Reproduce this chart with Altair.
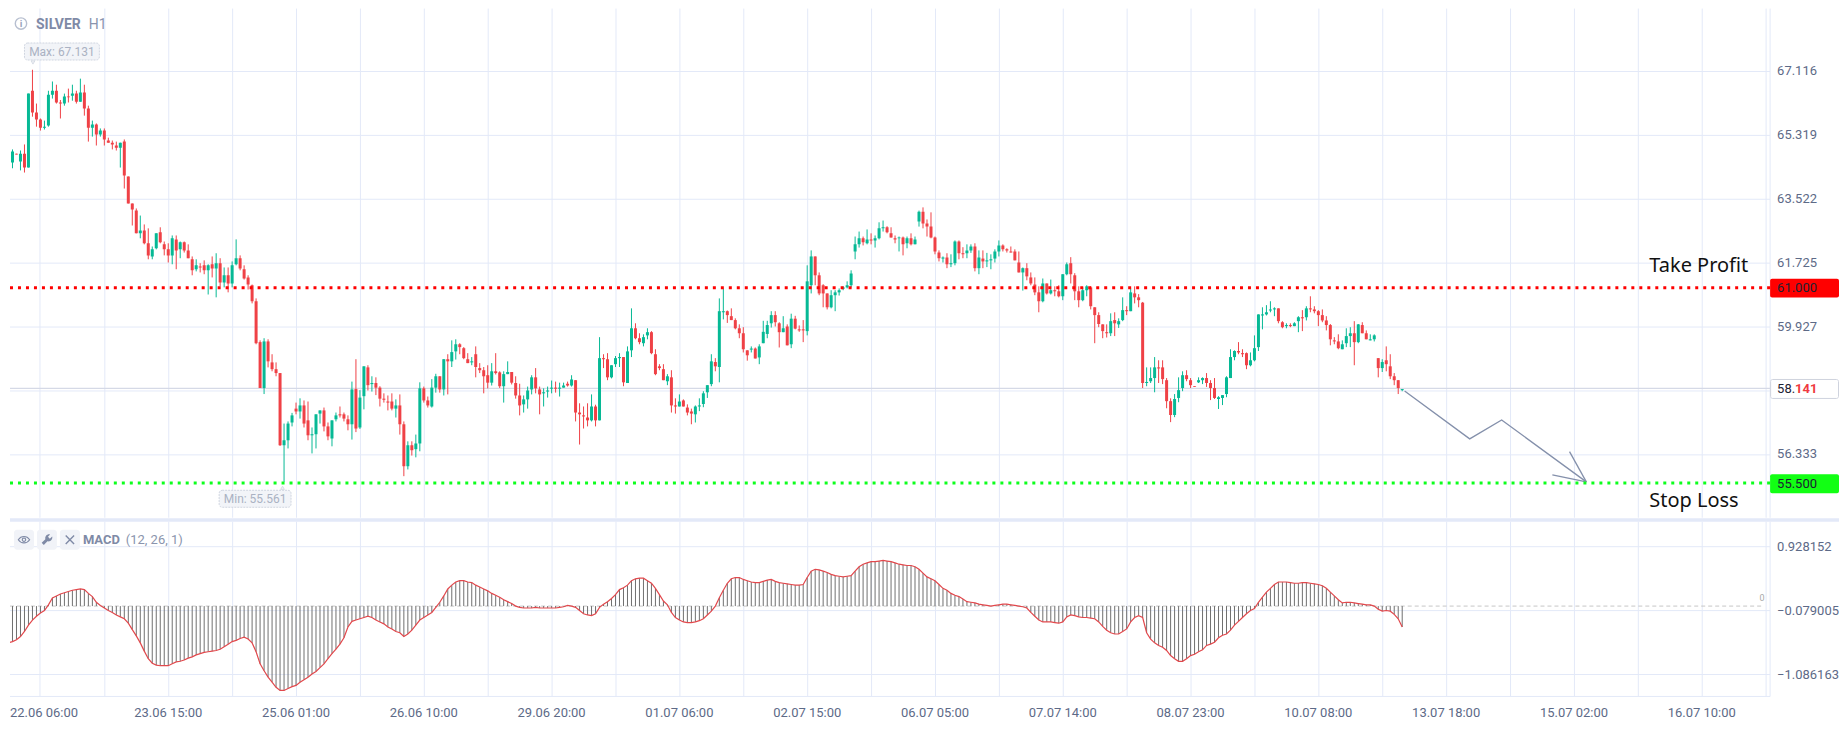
import altair as alt
import pandas as pd

OPEN = [64.57,64.54,64.79,64.57,64.79,64.40,66.56,65.95,65.75,65.52,
65.58,66.45,66.56,66.23,66.20,66.40,66.42,66.48,66.25,66.51,
66.06,65.52,65.61,65.33,65.44,65.16,65.10,65.02,64.96,65.13,
64.15,63.39,63.19,62.55,62.63,62.27,61.90,62.13,62.58,62.24,
62.10,61.93,62.38,62.10,62.30,62.07,61.82,61.54,61.62,61.65,
61.51,61.68,61.56,61.71,61.17,61.37,61.14,61.68,61.85,61.54,
61.31,61.09,60.64,59.49,58.20,59.51,58.92,58.73,58.62,56.59,
56.73,57.23,57.62,57.54,57.71,57.29,56.87,56.90,57.48,57.57,
57.12,56.78,57.32,57.46,57.46,57.32,57.18,58.17,57.09,57.97,
58.78,58.31,58.34,58.21,57.90,57.82,57.82,57.62,57.71,57.18,
56.00,56.59,56.48,56.64,58.19,57.85,57.68,58.21,58.53,58.16,
59.01,58.95,59.23,59.43,59.32,59.01,58.92,59.15,58.76,58.70,
58.56,58.35,58.67,58.64,58.25,58.59,58.65,58.34,57.99,57.74,
57.88,58.16,58.50,58.16,58.05,58.10,58.18,58.21,58.18,58.21,
58.32,58.27,58.42,57.51,57.43,57.37,57.29,57.68,57.29,59.04,
59.01,58.50,58.87,59.04,59.07,58.34,59.26,59.88,59.60,59.46,
59.68,59.77,59.15,58.81,58.73,58.39,58.50,57.71,57.68,57.85,
57.65,57.54,57.46,57.68,57.75,58.08,58.31,58.93,58.79,60.33,
60.36,60.22,60.11,59.88,59.74,59.26,59.28,59.31,59.06,59.46,
59.72,60.02,60.25,60.02,59.77,59.93,59.43,60.15,59.85,59.85,
59.80,61.09,61.90,61.37,61.09,60.86,60.47,60.81,60.89,60.99,
61.03,61.09,62.04,62.24,62.41,62.27,62.38,62.35,62.41,62.69,
62.72,62.55,62.41,62.41,62.43,62.27,62.41,62.24,62.88,63.16,
62.83,62.74,62.43,62.01,61.84,61.87,61.68,61.71,62.32,61.99,
61.99,62.07,62.18,61.57,61.84,61.76,61.79,61.84,62.04,62.21,
62.10,62.04,62.04,61.73,61.45,61.57,61.31,61.11,60.89,60.64,
61.14,60.86,60.95,60.92,60.78,61.40,61.71,61.37,60.92,60.67,
60.95,61.03,60.47,60.25,59.99,59.77,59.74,60.11,59.99,60.11,
60.39,60.36,60.86,60.75,60.60,58.34,58.39,58.48,58.78,58.78,
58.42,57.83,57.44,57.92,58.20,58.56,58.42,58.25,58.36,58.42,
58.48,58.34,58.20,57.89,57.92,58.03,58.48,59.07,59.24,59.18,
59.18,58.84,58.98,59.35,60.24,60.27,60.38,60.41,60.44,60.05,
59.94,59.97,59.94,60.08,60.19,60.19,60.44,60.41,60.36,60.25,
60.10,59.97,59.54,59.51,59.29,59.46,59.66,59.74,59.49,59.97,
59.74,59.54,59.57,59.04,58.76,58.98,58.81,58.53,58.42,58.14]

CLOSE = [64.54,64.85,64.77,64.79,64.40,66.48,65.95,65.75,65.52,65.55,
66.45,66.56,66.23,66.20,66.40,66.38,66.48,66.25,66.51,66.06,
65.52,65.61,65.33,65.44,65.19,65.10,65.05,64.96,65.10,64.18,
63.39,63.22,62.55,62.63,62.27,61.93,62.10,62.55,62.30,62.10,
61.93,62.41,62.07,62.30,62.07,61.85,61.51,61.65,61.59,61.51,
61.65,61.56,61.71,61.17,61.37,61.14,61.65,61.85,61.56,61.28,
61.11,60.64,59.46,58.20,59.51,58.95,58.73,58.62,56.59,56.73,
57.20,57.43,57.54,57.71,57.20,56.87,56.90,57.46,57.57,57.12,
56.84,57.29,57.43,57.43,57.34,57.18,58.16,57.06,57.93,58.81,
58.28,58.34,58.21,57.90,57.87,57.79,57.62,57.71,57.18,56.00,
56.59,56.45,56.64,58.19,57.85,57.71,58.21,58.53,58.16,59.01,
58.95,59.21,59.43,59.35,59.04,58.90,58.95,58.79,58.70,58.53,
58.35,58.67,58.62,58.25,58.59,58.65,58.35,57.99,57.71,57.88,
58.13,58.50,58.19,58.02,58.08,58.13,58.21,58.18,58.21,58.27,
58.27,58.44,57.51,57.46,57.40,57.29,57.68,57.29,59.04,59.01,
58.50,58.84,59.04,59.07,58.36,59.23,59.88,59.60,59.49,59.63,
59.77,59.18,58.59,58.76,58.42,58.53,57.71,57.68,57.82,57.68,
57.51,57.48,57.68,57.71,58.05,58.28,58.95,58.81,60.36,60.36,
60.25,60.11,59.88,59.74,59.29,59.12,59.31,59.03,59.37,59.78,
59.97,60.25,60.05,59.77,59.88,59.40,60.15,59.87,59.82,59.82,
61.20,61.90,61.37,60.86,60.86,60.47,60.81,60.89,60.95,61.03,
61.09,61.42,62.24,62.41,62.30,62.38,62.35,62.41,62.69,62.72,
62.58,62.43,62.38,62.43,62.24,62.41,62.24,62.38,63.16,62.83,
62.74,62.43,62.04,61.85,61.87,61.68,61.71,62.32,61.99,61.96,
62.07,62.18,61.57,61.87,61.76,61.79,61.82,62.04,62.21,62.10,
62.07,62.01,61.79,61.45,61.57,61.34,61.14,60.89,60.64,61.14,
60.86,60.95,60.92,60.78,61.40,61.68,61.40,60.92,60.67,60.95,
61.06,60.50,60.25,60.00,59.80,59.74,60.08,60.02,60.08,60.39,
60.36,60.89,60.75,60.67,58.34,58.37,58.48,58.78,58.75,58.45,
57.83,57.44,57.89,58.14,58.56,58.45,58.28,58.23,58.42,58.48,
58.34,58.20,57.92,57.94,58.00,58.50,59.07,59.24,59.20,59.15,
58.84,58.98,59.32,60.27,60.27,60.33,60.41,60.44,60.08,59.91,
59.97,59.94,60.02,60.19,60.16,60.44,60.41,60.36,60.25,60.10,
59.97,59.57,59.51,59.32,59.43,59.66,59.74,59.49,59.99,59.74,
59.57,59.57,59.68,58.76,58.93,58.87,58.53,58.42,58.20,58.17]

HIGH = [64.71,64.91,64.79,64.88,65.05,66.48,67.15,66.20,65.78,65.72,
66.56,66.82,66.73,66.30,66.48,66.62,66.73,66.56,66.90,66.73,
66.14,65.72,65.64,65.50,65.50,65.24,65.16,65.13,65.10,65.19,
64.15,63.39,63.25,63.05,62.80,62.69,62.18,62.55,62.72,62.32,
62.27,62.49,62.49,62.32,62.32,62.24,61.90,61.82,61.71,61.79,
61.68,61.90,61.99,61.85,61.59,61.59,61.76,62.38,61.93,61.65,
61.37,61.11,60.72,59.54,59.60,59.57,59.15,58.92,58.62,57.20,
57.26,57.50,57.79,57.91,57.85,57.82,57.09,57.46,57.57,57.65,
57.23,57.29,57.51,57.68,57.51,57.43,58.38,59.01,58.14,58.81,
58.84,58.53,58.50,58.25,58.05,57.99,58.05,57.88,58.02,57.26,
56.70,56.70,56.89,58.36,58.24,57.96,58.45,58.60,58.53,59.01,
59.15,59.54,59.57,59.46,59.35,59.18,59.07,59.37,58.90,58.79,
58.84,58.90,59.18,58.67,58.67,58.95,58.65,58.53,58.32,57.99,
58.24,58.56,58.76,58.24,58.19,58.24,58.41,58.38,58.35,58.35,
58.38,58.56,58.42,57.77,57.68,57.77,58.02,57.73,59.63,59.15,
59.18,58.84,59.10,59.18,59.07,59.37,60.44,60.02,59.74,59.71,
59.88,59.80,59.29,58.87,58.87,58.59,58.70,57.91,58.02,57.88,
57.74,57.62,57.71,57.91,58.11,58.28,59.15,59.04,60.72,61.00,
60.38,60.44,60.16,59.99,59.91,59.26,59.37,59.34,59.43,60.09,
60.09,60.36,60.36,60.05,60.22,59.99,60.29,60.23,59.96,60.11,
61.65,62.07,61.90,61.45,61.12,60.86,60.95,60.95,61.00,61.06,
61.20,61.51,62.46,62.60,62.46,62.66,62.55,62.49,62.86,62.91,
62.75,62.72,62.49,62.46,62.46,62.46,62.55,62.46,63.19,63.28,
62.94,63.14,62.46,62.07,61.90,61.99,61.96,62.35,62.35,62.16,
62.24,62.24,62.27,62.07,62.07,62.00,61.96,62.10,62.35,62.24,
62.13,62.18,62.10,62.04,61.59,61.71,61.45,61.31,61.06,61.28,
61.14,61.25,61.06,61.09,61.40,61.73,61.88,61.43,61.06,61.03,
61.09,61.06,60.47,60.33,59.99,59.99,60.30,60.33,60.16,60.75,
60.50,61.00,61.06,60.84,60.62,58.78,58.78,59.07,58.98,58.98,
58.48,57.91,58.03,58.50,58.67,58.70,58.48,58.25,58.50,58.50,
58.62,58.42,58.48,57.97,58.00,58.53,59.29,59.26,59.49,59.29,
59.20,59.20,59.68,60.27,60.47,60.53,60.64,60.47,60.44,60.08,
60.02,60.02,60.05,60.22,60.39,60.50,60.78,60.50,60.39,60.41,
60.22,60.00,59.63,59.71,59.54,59.88,59.91,60.08,60.00,60.05,
59.82,59.71,59.71,59.04,59.01,59.37,59.15,58.62,58.42,58.17]

LOW = [64.50,64.38,64.77,64.32,64.26,64.40,65.83,65.55,65.44,65.47,
65.55,66.34,66.20,65.78,66.14,66.23,66.28,66.20,66.25,65.86,
65.13,65.27,65.02,65.27,65.02,65.10,64.91,64.88,64.40,63.81,
63.39,62.77,62.55,62.41,62.24,61.82,61.82,62.10,62.27,61.93,
61.73,61.68,61.54,61.85,62.01,61.85,61.37,61.48,61.45,61.40,
60.83,61.31,60.75,61.06,61.03,60.89,61.03,61.65,61.51,61.25,
60.97,60.58,59.43,58.20,58.03,58.78,58.67,58.53,56.57,55.56,
56.50,57.12,57.46,57.34,57.09,56.73,56.36,56.50,57.20,56.98,
56.73,56.56,57.26,57.37,57.26,57.01,56.75,56.96,57.05,57.60,
58.13,58.10,58.00,57.68,57.79,57.57,57.57,57.37,56.89,55.72,
55.91,56.30,56.25,56.42,57.79,57.65,57.65,58.07,58.07,57.99,
58.02,58.79,59.00,59.15,59.01,58.90,58.84,58.50,58.62,58.05,
58.19,58.27,58.58,58.20,57.79,58.59,58.30,57.90,57.43,57.51,
57.62,58.02,58.05,57.46,57.68,57.93,58.05,58.07,57.96,58.21,
58.24,58.24,57.26,56.61,57.06,57.12,57.26,57.12,57.29,58.76,
58.42,58.47,58.79,58.79,58.25,58.34,59.07,59.57,59.43,59.37,
59.57,59.15,58.56,58.70,58.42,58.28,57.51,57.48,57.68,57.68,
57.43,57.18,57.23,57.55,57.66,57.92,58.25,58.67,58.36,60.13,
60.03,60.11,59.85,59.60,59.20,58.97,59.20,59.03,58.87,59.46,
59.60,59.90,59.93,59.34,59.77,59.40,59.32,59.85,59.78,59.49,
59.68,60.86,61.09,60.81,60.47,60.41,60.44,60.36,60.80,60.95,
61.00,61.03,61.82,62.15,62.21,62.24,62.24,62.15,62.38,62.60,
62.55,62.43,62.27,62.04,61.93,62.13,62.21,62.24,62.74,62.69,
62.46,62.41,61.96,61.76,61.73,61.57,61.60,61.65,61.82,61.85,
61.85,62.00,61.48,61.40,61.57,61.60,61.54,61.73,61.90,62.04,
62.01,62.01,61.79,61.45,60.94,61.23,61.09,60.81,60.33,60.61,
60.83,60.83,60.78,60.75,60.67,61.37,61.14,60.67,60.47,60.64,
60.78,60.41,59.46,59.91,59.60,59.62,59.66,59.66,59.89,60.08,
60.25,60.36,60.58,60.47,58.20,58.25,58.34,58.08,58.34,58.31,
57.63,57.24,57.38,57.80,58.11,58.39,58.20,58.23,58.34,58.31,
58.23,57.86,57.89,57.61,57.72,57.94,58.48,58.98,59.15,59.07,
58.73,58.81,58.95,59.24,59.85,60.24,60.33,60.22,60.02,59.88,
59.88,59.91,59.94,59.77,59.80,60.10,60.33,60.30,59.94,60.05,
59.82,59.40,59.43,59.29,59.29,59.35,59.35,58.84,59.46,59.74,
59.57,59.54,59.51,58.50,58.65,58.67,58.45,58.28,58.03,58.11]

MACD = [-0.58,-0.56,-0.53,-0.48,-0.40,-0.30,-0.22,-0.16,-0.11,-0.07,
0.02,0.13,0.16,0.19,0.21,0.23,0.25,0.26,0.27,0.26,
0.20,0.15,0.06,0.01,-0.03,-0.07,-0.10,-0.14,-0.17,-0.20,
-0.27,-0.37,-0.47,-0.58,-0.71,-0.83,-0.90,-0.93,-0.94,-0.94,
-0.94,-0.91,-0.88,-0.87,-0.85,-0.82,-0.80,-0.77,-0.75,-0.73,
-0.72,-0.71,-0.70,-0.68,-0.64,-0.60,-0.56,-0.54,-0.51,-0.49,
-0.52,-0.58,-0.72,-0.91,-1.02,-1.12,-1.20,-1.28,-1.33,-1.33,
-1.30,-1.27,-1.25,-1.20,-1.16,-1.12,-1.07,-1.03,-0.97,-0.91,
-0.83,-0.75,-0.68,-0.60,-0.50,-0.33,-0.24,-0.22,-0.20,-0.18,
-0.16,-0.18,-0.22,-0.25,-0.28,-0.33,-0.36,-0.40,-0.42,-0.48,
-0.44,-0.38,-0.30,-0.22,-0.18,-0.14,-0.10,-0.02,0.06,0.16,
0.27,0.33,0.38,0.40,0.40,0.38,0.37,0.33,0.30,0.27,
0.24,0.20,0.17,0.14,0.10,0.07,0.04,0.00,-0.02,-0.03,
-0.03,-0.03,-0.02,-0.03,-0.03,-0.03,-0.03,-0.03,-0.02,-0.01,
0.01,0.00,-0.02,-0.07,-0.12,-0.14,-0.15,-0.12,-0.02,0.03,
0.07,0.12,0.18,0.26,0.29,0.33,0.40,0.43,0.44,0.44,
0.40,0.36,0.28,0.18,0.08,0.02,-0.10,-0.18,-0.22,-0.25,
-0.26,-0.26,-0.25,-0.23,-0.20,-0.14,-0.08,0.00,0.13,0.25,
0.36,0.43,0.45,0.45,0.42,0.40,0.38,0.37,0.37,0.39,
0.41,0.42,0.39,0.37,0.36,0.35,0.34,0.33,0.33,0.34,
0.45,0.55,0.58,0.57,0.55,0.53,0.50,0.48,0.47,0.46,
0.47,0.48,0.55,0.62,0.66,0.68,0.70,0.70,0.71,0.72,
0.71,0.70,0.68,0.66,0.65,0.64,0.64,0.62,0.58,0.52,
0.46,0.43,0.40,0.34,0.28,0.25,0.20,0.17,0.15,0.11,
0.07,0.06,0.05,0.03,0.02,0.01,0.00,0.01,0.02,0.03,
0.03,0.02,0.01,0.00,-0.01,-0.03,-0.10,-0.16,-0.22,-0.25,
-0.25,-0.25,-0.26,-0.27,-0.25,-0.17,-0.14,-0.15,-0.17,-0.18,
-0.18,-0.19,-0.20,-0.25,-0.32,-0.38,-0.42,-0.44,-0.44,-0.40,
-0.36,-0.25,-0.18,-0.15,-0.18,-0.42,-0.52,-0.58,-0.62,-0.65,
-0.70,-0.78,-0.83,-0.87,-0.87,-0.83,-0.78,-0.76,-0.72,-0.69,
-0.62,-0.60,-0.57,-0.50,-0.46,-0.44,-0.38,-0.30,-0.24,-0.18,
-0.12,-0.07,-0.04,0.06,0.14,0.22,0.28,0.34,0.38,0.38,
0.38,0.37,0.36,0.36,0.37,0.37,0.36,0.35,0.34,0.32,
0.28,0.22,0.16,0.10,0.05,0.06,0.06,0.05,0.04,0.03,
0.02,0.02,0.00,-0.05,-0.08,-0.07,-0.08,-0.13,-0.20,-0.33]

TIME_LABELS = ["22.06 06:00","23.06 15:00","25.06 01:00","26.06 10:00","29.06 20:00",
               "01.07 06:00","02.07 15:00","06.07 05:00","07.07 14:00","08.07 23:00",
               "10.07 08:00","13.07 18:00","15.07 02:00","16.07 10:00"]
PRICE_TICKS = [67.116, 65.319, 63.522, 61.725, 59.927, 58.13, 56.333]
MACD_TICKS = [0.928152, -0.079005, -1.086163]
TAKE_PROFIT_LINE = 61.02
STOP_LOSS_LINE = 55.525
LAST_PRICE_LINE = 58.19
PATH_BAR = [349.6, 365.9, 373.9, 395.1]
PATH_PRICE = [58.117, 56.77, 57.30, 55.56]
HEAD_BAR = [390.9, 386.6]
HEAD_PRICE = [56.41, 55.76]

GREEN, RED = "#06b995", "#ef4146"
GRID = "#e3e9f8"
AX = "#5d6a87"
MUTED = "#7f8aa6"
FONT = "Roboto"

df = pd.DataFrame({"i": range(len(OPEN)), "open": OPEN, "close": CLOSE, "high": HIGH, "low": LOW, "macd": MACD})
df["dir"] = ["up" if c >= o else "down" for o, c in zip(OPEN, CLOSE)]
df["top"] = df[["open", "close"]].max(axis=1)
df["bot"] = df[["open", "close"]].min(axis=1)
df["zero"] = 0.0

W, H1, H2 = 1763, 510, 175
xs = alt.Scale(domain=[0.375, 441.125], nice=False, zero=False, padding=0)
ys = alt.Scale(domain=[54.551, 68.871], nice=False, zero=False, padding=0)
ms = alt.Scale(domain=[-1.42451, 1.32944], nice=False, zero=False, padding=0)
dir_color = alt.Color("dir:N", scale=alt.Scale(domain=["up", "down"], range=[GREEN, RED]), legend=None)
grid_x = [8 + 16 * k for k in range(28)]

x_axis_top = alt.Axis(values=grid_x, title=None, labels=False, ticks=False, domain=False, grid=True,
                      gridColor=GRID, gridWidth=1, translate=0)
label_list = ",".join("'%s'" % s for s in TIME_LABELS)
x_axis_bottom = alt.Axis(values=grid_x, title=None, ticks=False, domain=True, domainColor=GRID, grid=True,
                         gridColor=GRID, gridWidth=1, translate=0, labelOverlap=False, labelFlush=False,
                         labelBound=False, labelColor=AX, labelFont=FONT, labelFontSize=13, labelPadding=11,
                         labelExpr="[%s][(datum.value-8)/32] || ''" % label_list,
                         labelAlign={"condition": {"test": "datum.value==8", "value": "left"}, "value": "center"},
                         labelOffset={"condition": {"test": "datum.value==8", "value": -30.5}, "value": 0})
y_axis_top = alt.Axis(orient="right", values=PRICE_TICKS, title=None, ticks=False, domain=True, domainColor=GRID,
                      grid=True, gridColor=GRID, gridWidth=1, translate=0, labelColor=AX, labelFont=FONT,
                      labelFontSize=13, labelPadding=7, labelOverlap=False,
                      labelExpr="datum.value==58.13 ? '' : format(datum.value,'.3f')")
y_axis_bot = alt.Axis(orient="right", values=MACD_TICKS, title=None, ticks=False, domain=True, domainColor=GRID,
                      grid=True, gridColor=GRID, gridWidth=1, translate=0, labelColor=AX, labelFont=FONT,
                      labelFontSize=13, labelPadding=7, format=".6f", labelOverlap=False)

one = pd.DataFrame({"a": [0]})
base = alt.Chart(df)


def box(x0, x1, y0, y1, oy, **kw):
    return alt.Chart(one).mark_rect(**kw).encode(x=alt.value(x0 - 8), x2=alt.value(x1 - 8),
                                                 y=alt.value(y0 - oy), y2=alt.value(y1 - oy))


def label(txt, x, y, oy, **kw):
    kw.setdefault("font", FONT)
    kw.setdefault("baseline", "middle")
    kw.setdefault("align", "left")
    return alt.Chart(one).mark_text(**kw).encode(x=alt.value(x - 8), y=alt.value(y - oy), text=alt.value(txt))


def glyph(shape, x, y, oy, size, **kw):
    return alt.Chart(one).mark_point(shape=shape, size=size, **kw).encode(x=alt.value(x - 8), y=alt.value(y - oy))


X1 = dict(scale=xs, axis=x_axis_top)
Y1 = dict(scale=ys, axis=y_axis_top)
X2 = dict(scale=xs, axis=x_axis_bottom)
Y2 = dict(scale=ms, axis=y_axis_bot)

wick = base.mark_rule(strokeWidth=1, clip=True).encode(
    x=alt.X("i:Q", **X1), y=alt.Y("low:Q", **Y1), y2="high:Q", color=dir_color)
body = base.mark_bar(size=3, clip=True).encode(
    x=alt.X("i:Q", **X1), y=alt.Y("bot:Q", **Y1), y2="top:Q", color=dir_color)


def hline(v, **kw):
    return alt.Chart(pd.DataFrame({"v": [v]})).mark_rule(**kw).encode(
        y=alt.Y("v:Q", **Y1), x=alt.value(0), x2=alt.value(W))


path_df = pd.DataFrame({"b": PATH_BAR, "p": PATH_PRICE})
path = alt.Chart(path_df).mark_line(color="#8490ab", strokeWidth=1.3).encode(
    x=alt.X("b:Q", **X1), y=alt.Y("p:Q", **Y1))
head_df = pd.DataFrame({"b": HEAD_BAR, "p": HEAD_PRICE, "b2": [PATH_BAR[-1]] * 2, "p2": [PATH_PRICE[-1]] * 2})
head = alt.Chart(head_df).mark_rule(color="#8490ab", strokeWidth=1.3).encode(
    x=alt.X("b:Q", **X1), x2="b2:Q", y=alt.Y("p:Q", **Y1), y2="p2:Q")

EYE = "M-1,0 C-0.5,-0.75 0.5,-0.75 1,0 C0.5,0.75 -0.5,0.75 -1,0 Z M-0.3,0 A0.3,0.3 0 1,0 0.3,0 A0.3,0.3 0 1,0 -0.3,0 Z"
WRENCH = "M1,-0.6 L0.55,-0.2 L0.2,-0.55 L0.6,-1 C0.1,-1.15 -0.45,-0.7 -0.3,-0.1 L-1,0.6 L-0.6,1 L0.1,0.3 C0.7,0.45 1.15,-0.1 1,-0.6 Z"
CROSS = "M-1,-1 L1,1 M-1,1 L1,-1"

top = alt.layer(
    hline(LAST_PRICE_LINE, color="#d5d9e6", strokeWidth=1.2),
    wick, body,
    path, head,
    hline(TAKE_PROFIT_LINE, color="#ff0000", strokeWidth=3, strokeDash=[3, 5]),
    hline(STOP_LOSS_LINE, color="#0cff1c", strokeWidth=3, strokeDash=[3, 5]),
    box(8, 1840, 518.5, 522, 8, color=GRID),
    glyph("circle", 19, 23, 8, 130, color="#9aa5bd", strokeWidth=1.4, filled=False),
    label("i", 19, 23, 8, align="center", fontSize=10, fontWeight="bold", color="#9aa5bd"),
    label("SILVER", 34, 24, 8, fontSize=14, fontWeight="bold", color=MUTED),
    label("H1", 87, 24, 8, fontSize=14, color="#8a94ad"),
    box(22.5, 97.5, 42.5, 59.5, 8, fill="#f2f4f8", stroke="#cfd5e0", strokeDash=[2, 1], cornerRadius=3),
    glyph("triangle-down", 31, 62, 8, 14, fill="#f2f4f8", stroke="#cfd5e0", strokeWidth=0.8, opacity=1, filled=True),
    label("Max: 67.131", 60, 51, 8, align="center", fontSize=12, color="#aab2c3"),
    box(217.5, 289.5, 490.5, 507.5, 8, fill="#f2f4f8", stroke="#cfd5e0", strokeDash=[2, 1], cornerRadius=3),
    glyph("triangle-up", 281, 488, 8, 14, fill="#f2f4f8", stroke="#cfd5e0", strokeWidth=0.8, opacity=1, filled=True),
    label("Min: 55.561", 253.5, 499, 8, align="center", fontSize=12, color="#aab2c3"),
    label("Take Profit", 1650, 265.5, 8, font="Noto Sans", fontSize=20, color="#111111"),
    label("Stop Loss", 1650, 501, 8, font="Noto Sans", fontSize=20, color="#111111"),
    box(1771, 1840, 278.5, 297.5, 8, color="#ff0000", cornerRadius=2),
    label("61.000", 1778, 288, 8, fontSize=13, color="#1c2233"),
    box(1771, 1840, 474.5, 493.5, 8, color="#12ff14", cornerRadius=2),
    label("55.500", 1778, 484, 8, fontSize=13, color="#1c2233"),
    box(1771.5, 1839.5, 379.5, 398.5, 8, fill="#ffffff", stroke="#cfd3de", cornerRadius=2),
    label("58.", 1778, 389, 8, fontSize=13, color="#1c2233"),
    label("141", 1796, 389, 8, fontSize=13, fontWeight="bold", color="#ef3a3f"),
).properties(width=W, height=H1)

hist = base.mark_rule(strokeWidth=1, color="#6f6f6f", clip=True).encode(
    x=alt.X("i:Q", **X2), y=alt.Y("macd:Q", **Y2), y2="zero:Q")
macd_line = base.mark_line(color="#e2484c", strokeWidth=1.2, clip=True).encode(
    x=alt.X("i:Q", **X2), y=alt.Y("macd:Q", **Y2))
zero_line = alt.Chart(pd.DataFrame({"z": [0.0]})).mark_rule(color="#c6c6c6", strokeDash=[4, 3], strokeWidth=1).encode(
    y=alt.Y("z:Q", **Y2), x=alt.value(0), x2=alt.value(1755))
O2 = 522
bottom = alt.layer(
    zero_line, hist, macd_line,
    label("0", 1763, 598, O2, fontSize=9, align="center", color="#a8a8a8"),
    box(12, 32, 530, 550, O2, fill="#f1f3f8", cornerRadius=3),
    box(35, 55, 530, 550, O2, fill="#f1f3f8", cornerRadius=3),
    box(58, 78, 530, 550, O2, fill="#f1f3f8", cornerRadius=3),
    glyph(EYE, 22, 540, O2, 130, color=MUTED, strokeWidth=1.1, filled=False, opacity=1),
    glyph(WRENCH, 45, 540, O2, 110, color=MUTED, fill=MUTED, filled=True, opacity=1),
    glyph(CROSS, 68, 540, O2, 70, color=MUTED, strokeWidth=1.4, filled=False, opacity=1),
    label("MACD", 81, 540, O2, fontSize=13, fontWeight="bold", color=MUTED),
    label("(12, 26, 1)", 124, 540, O2, fontSize=13, color="#8a94ad"),
).properties(width=W, height=H2)

chart = alt.vconcat(top, bottom, spacing=0).properties(padding=0).configure_view(stroke=None).configure_axis(labelFont=FONT)

chart.save("out.html", embed_options={"renderer": "svg", "actions": False})
